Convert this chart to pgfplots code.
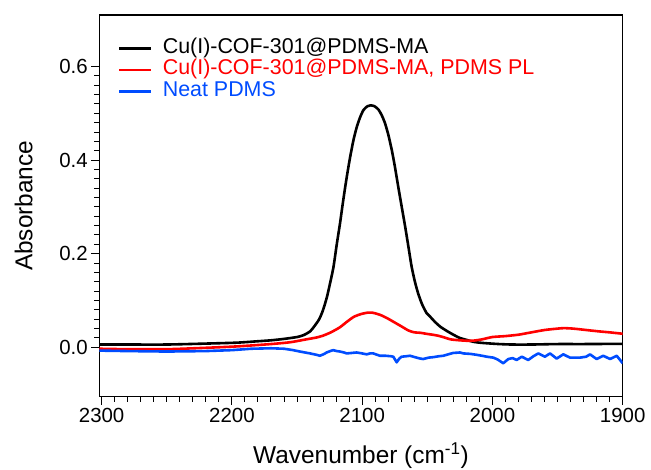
\documentclass[border=0pt]{standalone}
\usepackage{pgfplots}
\pgfplotsset{compat=1.18}
\usepackage{fontspec}
\setmainfont{Liberation Sans}
\definecolor{cured}{RGB}{255,0,0}
\definecolor{neatblue}{RGB}{0,76,255}

\begin{document}
\begin{tikzpicture}
\begin{axis}[
  scale only axis,
  width=523.4bp, height=381.7bp,
  x dir=reverse,
  xmin=1900, xmax=2301.8,
  ymin=-0.1055, ymax=0.71,
  xtick={1900,2000,...,2300},
  ytick={0,0.2,0.4,0.6},
  minor x tick num=9, minor y tick num=9,
  tick pos=left, tick align=outside,
  major tick length=8bp, minor tick length=5bp,
  every tick/.style={black, line width=1bp},
  axis line style={line width=1.2bp},
  /pgf/number format/assume math mode=true,
  xticklabel style={/pgf/number format/1000 sep={}, font=\fontsize{20.5}{24}\selectfont},
  yticklabel style={/pgf/number format/fixed, /pgf/number format/fixed zerofill,
    /pgf/number format/precision=1, font=\fontsize{20.5}{24}\selectfont},
  xlabel={Wavenumber (cm\textsuperscript{-1})},
  ylabel={Absorbance},
  xlabel shift=13bp, ylabel shift=20bp,
  label style={font=\fontsize{24.5}{28}\selectfont},
  legend cell align=left,
  legend style={draw=none, fill=none, at={(0,1)}, anchor=north west,
    xshift=18.7bp, yshift=-23bp, inner sep=0pt, column sep=10bp, row sep=1.7bp,
    nodes={inner sep=0pt, text height=15bp, text depth=5bp},
    font=\fontsize{21.5}{24}\selectfont},
  legend image code/.code={\draw[#1, line width=2.6bp] (0bp,0bp) -- (32bp,0bp);},
  every axis plot/.append style={line width=2.6bp, line join=round},
]
% Cu(I)-COF-301@PDMS-MA
\addplot[black, smooth, tension=0.4] coordinates {
(2301.8,0.006) (2280,0.006) (2250,0.006) (2220,0.008) (2196,0.010) (2180,0.013)
(2170,0.015) (2160,0.018) (2150,0.022) (2145,0.026) (2140,0.034) (2137,0.044)
(2133,0.060) (2130,0.080) (2127,0.108) (2124,0.145) (2122,0.172) (2119.5,0.220)
(2117,0.265) (2115,0.305) (2113,0.343) (2111,0.378) (2109,0.410) (2106.5,0.445)
(2104,0.472) (2101.5,0.492) (2099,0.507) (2096,0.515) (2093.5,0.517) (2090.5,0.515)
(2087.5,0.508) (2085,0.496) (2082.5,0.479) (2080,0.455) (2077.3,0.422) (2075,0.388)
(2072.3,0.343) (2069.5,0.298) (2067,0.258) (2064.5,0.215) (2062,0.172) (2059.5,0.140)
(2057,0.115) (2054,0.092) (2050.5,0.073) (2048,0.066) (2044,0.054) (2040,0.044)
(2035,0.035) (2030,0.027) (2025,0.020) (2020,0.016) (2015,0.012) (2010,0.010)
(2004,0.0086) (1995,0.007) (1985,0.006) (1970,0.006) (1950,0.007) (1930,0.007)
(1900,0.0075)
};
\addlegendentry{Cu(I)-COF-301@PDMS-MA}
% Cu(I)-COF-301@PDMS-MA, PDMS PL
\addplot[cured, smooth, tension=0.4] coordinates {
(2301.8,-0.003) (2280,-0.004) (2250,-0.004) (2220,-0.001) (2196,0.002) (2170,0.007)
(2155,0.011) (2143,0.017) (2135,0.021) (2130,0.025) (2124,0.032) (2117,0.043)
(2112,0.054) (2106.5,0.065) (2101,0.071) (2096,0.074) (2092,0.074) (2088,0.071)
(2085,0.068) (2080,0.061) (2075,0.053) (2070,0.045) (2064.5,0.036) (2060,0.032)
(2055,0.031) (2051,0.029) (2046,0.027) (2042,0.025) (2038,0.022) (2032,0.017)
(2025,0.015) (2019,0.014) (2014,0.0145) (2008,0.017) (2000,0.022) (1990,0.024)
(1980,0.027) (1972,0.031) (1960,0.037) (1950,0.040) (1945,0.041) (1938,0.040)
(1928,0.037) (1918,0.034) (1910,0.032) (1900,0.029)
};
\addlegendentry{\textcolor{cured}{Cu(I)-COF-301@PDMS-MA, PDMS PL}}
% Neat PDMS
\addplot[neatblue] coordinates {
(2301.8,-0.007) (2280,-0.008) (2250,-0.009) (2220,-0.008) (2200,-0.006) (2185,-0.003)
(2170,-0.002) (2160,-0.003) (2153,-0.006) (2147.8,-0.009) (2140,-0.013) (2135,-0.016)
(2132.4,-0.018) (2129,-0.014) (2127.3,-0.011) (2124.5,-0.008) (2122.2,-0.006)
(2119.5,-0.008) (2117,-0.009) (2114,-0.011) (2111.9,-0.013) (2108,-0.012)
(2104.2,-0.011) (2100,-0.013) (2096.5,-0.015) (2094,-0.013) (2091.5,-0.013)
(2088.5,-0.016) (2086.4,-0.018) (2082,-0.018) (2078,-0.019) (2076.1,-0.020)
(2073.5,-0.032) (2071.5,-0.024) (2069.7,-0.020) (2066,-0.019) (2063.3,-0.018)
(2058.2,-0.022) (2055.5,-0.024) (2053.1,-0.025) (2049,-0.022) (2045.4,-0.021)
(2041,-0.019) (2037.7,-0.018) (2034,-0.015) (2030.1,-0.012) (2024.9,-0.011)
(2022.4,-0.013) (2017,-0.014) (2012.1,-0.016) (2008,-0.018) (2004.4,-0.020)
(1999.3,-0.022) (1996,-0.026) (1991.7,-0.034) (1987.8,-0.025) (1984.5,-0.023)
(1981.4,-0.027) (1977.5,-0.020) (1972.5,-0.027) (1968.5,-0.019) (1964.8,-0.013)
(1959.7,-0.020) (1955.8,-0.013) (1950.7,-0.024) (1945.6,-0.015) (1940.5,-0.022)
(1932.8,-0.022) (1928,-0.020) (1925.1,-0.015) (1920,-0.025) (1914.9,-0.018)
(1909.7,-0.025) (1904.6,-0.018) (1900,-0.034)
};
\addlegendentry{\textcolor{neatblue}{Neat PDMS}}
\end{axis}
\pgfresetboundingbox
\path (current axis.south west) ++(-99.3bp,-72.3bp) coordinate (bbA);
\path (current axis.north east) ++(28.3bp,15bp) coordinate (bbB);
\useasboundingbox (bbA) rectangle (bbB);
\end{tikzpicture}
\end{document}
